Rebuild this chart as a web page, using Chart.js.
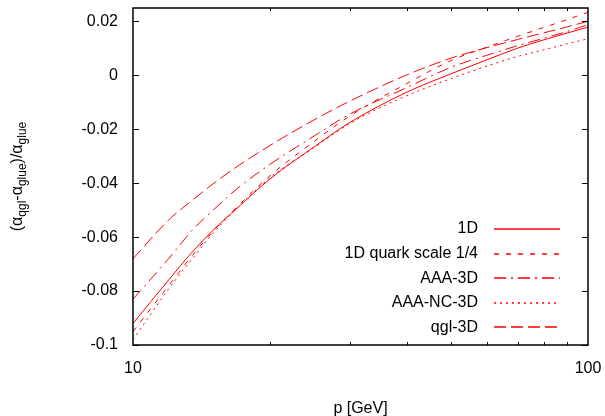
<!DOCTYPE html>
<html>
<head>
<meta charset="utf-8">
<script src="https://cdn.jsdelivr.net/npm/chart.js@4.4.0/dist/chart.umd.min.js"></script>
<style>
html,body{margin:0;padding:0;background:#fff;}
#wrap{width:605px;height:416px;position:relative;}
</style>
</head>
<body>
<div id="wrap"><canvas id="c" width="605" height="416"></canvas></div>
<script>
// ---- data ----
const pValues = [10, 12, 13.5, 15, 17, 20, 25, 30, 40, 50, 60, 70, 80, 90, 100];
const seriesNames = ["1D", "1D quark scale 1/4", "AAA-3D", "AAA-NC-3D", "qgl-3D"];
const s1D      = [-0.092, -0.0757, -0.0655, -0.0574, -0.0490, -0.0384, -0.0265, -0.0174, -0.0062, 0.0006, 0.0058, 0.0101, 0.0132, 0.0157, 0.0179];
const sQuark14 = [-0.095, -0.0778, -0.0668, -0.0578, -0.0485, -0.0372, -0.0245, -0.0150, -0.0030, 0.0055, 0.0105, 0.0145, 0.0178, 0.0207, 0.0234];
const sAAA3D   = [-0.083, -0.0678, -0.0574, -0.0500, -0.0418, -0.0330, -0.0225, -0.0143, -0.0045, 0.0030, 0.0075, 0.0110, 0.0138, 0.0163, 0.0188];
const sAAANC3D = [-0.098, -0.0790, -0.0680, -0.0585, -0.0490, -0.0380, -0.0268, -0.0178, -0.0075, -0.0012, 0.0035, 0.0070, 0.0095, 0.0117, 0.0136];
const sQgl3D   = [-0.068, -0.0535, -0.0463, -0.0402, -0.0336, -0.0260, -0.0165, -0.0095, 0.0002, 0.0064, 0.0103, 0.0133, 0.0158, 0.0180, 0.0201];
const xTicks = [10, 100];
const xTickLabels = ["10", "100"];
const xMinorTicks = [20, 30, 40, 50, 60, 70, 80, 90];
const yTicks = [-0.1, -0.08, -0.06, -0.04, -0.02, 0, 0.02];
const yTickLabels = ["-0.1", "-0.08", "-0.06", "-0.04", "-0.02", "0", "0.02"];

const RED = "rgb(255,0,0)";
const FONT = "'Liberation Sans', Arial, sans-serif";
const dashes = [[], [5, 7], [12, 5, 2, 5], [2, 4], [12, 5]];
const allSeries = [s1D, sQuark14, sAAA3D, sAAANC3D, sQgl3D];

const datasets = allSeries.map((s, i) => ({
  label: seriesNames[i],
  data: pValues.map((p, k) => ({x: p, y: s[k]})),
  borderColor: RED,
  borderWidth: 1,
  borderDash: dashes[i],
  pointRadius: 0,
  fill: false,
  cubicInterpolationMode: 'monotone'
}));

const framePlugin = {
  id: 'frame',
  afterDatasetsDraw(chart) {
    const ctx = chart.ctx;
    const a = chart.chartArea;
    const xs = chart.scales.x, ys = chart.scales.y;
    ctx.save();
    ctx.strokeStyle = '#000';
    ctx.lineWidth = 1;
    ctx.setLineDash([]);
    ctx.beginPath();
    yTicks.forEach(v => {
      const y = Math.round(ys.getPixelForValue(v)) + 0.5;
      ctx.moveTo(a.left, y); ctx.lineTo(a.left + 6, y);
      ctx.moveTo(a.right, y); ctx.lineTo(a.right - 6, y);
    });
    xMinorTicks.forEach(v => {
      const x = Math.round(xs.getPixelForValue(v)) + 0.5;
      ctx.moveTo(x, a.bottom); ctx.lineTo(x, a.bottom - 3);
      ctx.moveTo(x, a.top); ctx.lineTo(x, a.top + 3);
    });
    ctx.stroke();
    ctx.lineWidth = 1.5;
    ctx.strokeRect(a.left, a.top, a.right - a.left, a.bottom - a.top);

    // legend
    ctx.font = "16px " + FONT;
    ctx.textAlign = 'right';
    ctx.textBaseline = 'middle';
    const rowY0 = 229, rowH = 24.6;
    seriesNames.forEach((name, i) => {
      const y = rowY0 + i * rowH;
      ctx.fillStyle = '#000';
      ctx.fillText(name, 478, y);
      ctx.beginPath();
      ctx.strokeStyle = RED;
      ctx.lineWidth = 1.3;
      ctx.setLineDash(dashes[i]);
      ctx.moveTo(494, Math.round(y));
      ctx.lineTo(560, Math.round(y));
      ctx.stroke();
    });
    ctx.setLineDash([]);

    // y-axis title with subscripts
    ctx.save();
    const cx = 17, cy = (a.top + a.bottom) / 2;
    ctx.translate(cx, cy);
    ctx.rotate(-Math.PI / 2);
    const parts = [["(α", 0], ["qgl", 1], ["-α", 0], ["glue", 1], [")/α", 0], ["glue", 1]];
    const mainF = "16px " + FONT, subF = "12px " + FONT;
    let total = 0;
    parts.forEach(p => { ctx.font = p[1] ? subF : mainF; total += ctx.measureText(p[0]).width; });
    let x = -total / 2;
    ctx.textAlign = 'left';
    ctx.textBaseline = 'alphabetic';
    ctx.fillStyle = '#000';
    parts.forEach(p => {
      ctx.font = p[1] ? subF : mainF;
      ctx.fillText(p[0], x, p[1] ? 9 : 5);
      x += ctx.measureText(p[0]).width;
    });
    ctx.restore();
    ctx.restore();
  }
};

new Chart(document.getElementById('c'), {
  type: 'line',
  data: { datasets },
  options: {
    responsive: false,
    animation: false,
    layout: { padding: { left: 0, right: 17, top: 8, bottom: 0 } },
    plugins: { legend: { display: false }, tooltip: { enabled: false } },
    scales: {
      x: {
        type: 'logarithmic',
        min: 10, max: 100,
        grid: { display: false },
        border: { display: false },
        afterBuildTicks(s) { s.ticks = xTicks.map(v => ({ value: v })); },
        afterFit(s) { s.height = 71; s.paddingLeft = 0; s.paddingRight = 0; },
        ticks: {
          color: '#000', font: { family: FONT, size: 16 }, padding: 6,
          maxRotation: 0, autoSkip: false,
          callback: (v) => { const i = xTicks.indexOf(v); return i >= 0 ? xTickLabels[i] : ''; }
        },
        title: { display: true, text: 'p [GeV]', color: '#000', font: { family: FONT, size: 16 }, padding: { top: 14, bottom: -2 } }
      },
      y: {
        min: -0.1, max: 0.025,
        grid: { display: false },
        border: { display: false },
        afterBuildTicks(s) { s.ticks = yTicks.map(v => ({ value: v })); },
        afterFit(s) { s.width = 133; s.paddingTop = 0; s.paddingBottom = 0; },
        ticks: {
          color: '#000', font: { family: FONT, size: 16 }, padding: 7,
          autoSkip: false,
          callback: (v) => { const i = yTicks.findIndex(t => Math.abs(t - v) < 1e-9); return i >= 0 ? yTickLabels[i] : ''; }
        }
      }
    }
  },
  plugins: [framePlugin]
});
</script>
</body>
</html>
